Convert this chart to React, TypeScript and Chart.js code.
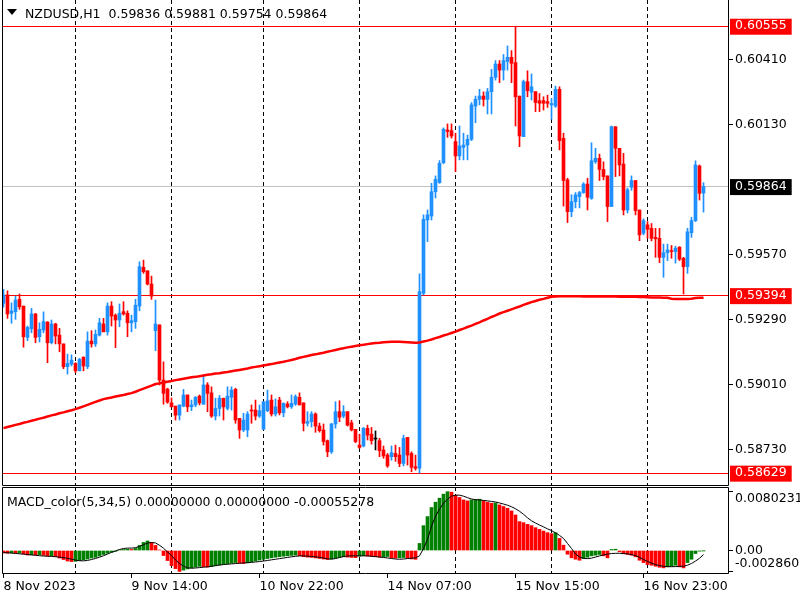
import React, { useEffect, useRef } from "react";
import { Chart, registerables } from "chart.js";

Chart.register(...registerables);

// ---------------- data ----------------
const openPrices = [
  0.59361, 0.59397, 0.59318, 0.59325, 0.59378, 0.59349, 0.59214, 0.59251, 0.59315, 0.59217,
  0.59246, 0.59280, 0.59191, 0.59272, 0.59224, 0.59186, 0.59088, 0.59099, 0.59102, 0.59070,
  0.59128, 0.59088, 0.59198, 0.59186, 0.59224, 0.59272, 0.59238, 0.59349, 0.59310, 0.59289,
  0.59325, 0.59318, 0.59277, 0.59282, 0.59349, 0.59516, 0.59501, 0.59444, 0.59243, 0.59268,
  0.59030, 0.58991, 0.58932, 0.58918, 0.58879, 0.58918, 0.58966, 0.58915, 0.58923, 0.58961,
  0.58926, 0.59009, 0.58975, 0.58875, 0.58908, 0.58952, 0.58908, 0.58956, 0.58990, 0.58865,
  0.58815, 0.58815, 0.58901, 0.58901, 0.58875, 0.58818, 0.58898, 0.58944, 0.58884, 0.58944,
  0.58889, 0.58927, 0.58915, 0.58927, 0.58956, 0.58932, 0.58844, 0.58851, 0.58884, 0.58832,
  0.58815, 0.58769, 0.58721, 0.58841, 0.58894, 0.58875, 0.58894, 0.58846, 0.58818, 0.58750,
  0.58746, 0.58822, 0.58797, 0.58776, 0.58769, 0.58729, 0.58707, 0.58700, 0.58714, 0.58707,
  0.58671, 0.58783, 0.58714, 0.58657, 0.58650, 0.59404, 0.59720, 0.59737, 0.59842, 0.59881,
  0.59967, 0.60108, 0.60105, 0.60058, 0.59996, 0.60033, 0.60043, 0.60068, 0.60211, 0.60240,
  0.60254, 0.60240, 0.60273, 0.60335, 0.60392, 0.60366, 0.60403, 0.60421, 0.60398, 0.60254,
  0.60079, 0.60316, 0.60271, 0.60273, 0.60234, 0.60234, 0.60230, 0.60216, 0.60211, 0.60283,
  0.60072, 0.59893, 0.59756, 0.59799, 0.59821, 0.59838, 0.59875, 0.59813, 0.59971, 0.59986,
  0.59938, 0.59910, 0.59778, 0.60122, 0.60029, 0.59961, 0.59763, 0.59861, 0.59890, 0.59763,
  0.59663, 0.59699, 0.59684, 0.59645, 0.59641, 0.59559, 0.59579, 0.59588, 0.59584, 0.59603,
  0.59555, 0.59519, 0.59665, 0.59717, 0.59953, 0.59836,
];
const highPrices = [
  0.59421, 0.59415, 0.59363, 0.59392, 0.59401, 0.59349, 0.59263, 0.59339, 0.59318, 0.59277,
  0.59324, 0.59282, 0.59289, 0.59275, 0.59253, 0.59186, 0.59142, 0.59139, 0.59105, 0.59124,
  0.59131, 0.59238, 0.59243, 0.59246, 0.59296, 0.59296, 0.59363, 0.59368, 0.59315, 0.59358,
  0.59368, 0.59329, 0.59310, 0.59378, 0.59540, 0.59547, 0.59501, 0.59478, 0.59375, 0.59268,
  0.59109, 0.58995, 0.58953, 0.58918, 0.58923, 0.58990, 0.58966, 0.58944, 0.58959, 0.58966,
  0.59052, 0.59019, 0.59001, 0.58952, 0.58964, 0.58952, 0.59001, 0.59001, 0.58995, 0.58865,
  0.58887, 0.58894, 0.58923, 0.58944, 0.58923, 0.58937, 0.58987, 0.58966, 0.58949, 0.58956,
  0.58932, 0.58937, 0.58966, 0.58966, 0.58975, 0.58932, 0.58894, 0.58894, 0.58889, 0.58845,
  0.58841, 0.58772, 0.58844, 0.58937, 0.58941, 0.58920, 0.58894, 0.58857, 0.58818, 0.58797,
  0.58826, 0.58836, 0.58826, 0.58811, 0.58779, 0.58746, 0.58714, 0.58746, 0.58750, 0.58740,
  0.58793, 0.58783, 0.58721, 0.58707, 0.59488, 0.59742, 0.59763, 0.59878, 0.59910, 0.59976,
  0.60117, 0.60134, 0.60134, 0.60094, 0.60125, 0.60094, 0.60086, 0.60226, 0.60254, 0.60283,
  0.60272, 0.60287, 0.60369, 0.60407, 0.60407, 0.60433, 0.60470, 0.60450, 0.60555, 0.60254,
  0.60323, 0.60363, 0.60349, 0.60273, 0.60265, 0.60251, 0.60258, 0.60244, 0.60297, 0.60294,
  0.60094, 0.59900, 0.59829, 0.59838, 0.59843, 0.59881, 0.59900, 0.60053, 0.60029, 0.60004,
  0.59971, 0.59910, 0.60125, 0.60122, 0.60029, 0.60007, 0.59858, 0.59910, 0.59890, 0.59763,
  0.59725, 0.59713, 0.59705, 0.59684, 0.59684, 0.59616, 0.59616, 0.59610, 0.59607, 0.59605,
  0.59559, 0.59684, 0.59731, 0.59975, 0.59957, 0.59881,
];
const lowPrices = [
  0.59344, 0.59296, 0.59275, 0.59292, 0.59335, 0.59172, 0.59200, 0.59234, 0.59191, 0.59194,
  0.59234, 0.59105, 0.59186, 0.59186, 0.59152, 0.59079, 0.59056, 0.59091, 0.59062, 0.59070,
  0.59070, 0.59079, 0.59172, 0.59175, 0.59220, 0.59238, 0.59224, 0.59263, 0.59170, 0.59260,
  0.59310, 0.59217, 0.59238, 0.59253, 0.59329, 0.59490, 0.59440, 0.59378, 0.59157, 0.59009,
  0.58926, 0.58930, 0.58914, 0.58858, 0.58858, 0.58915, 0.58894, 0.58898, 0.58915, 0.58923,
  0.58926, 0.58894, 0.58869, 0.58858, 0.58875, 0.58858, 0.58901, 0.58901, 0.58844, 0.58779,
  0.58808, 0.58786, 0.58844, 0.58858, 0.58869, 0.58818, 0.58894, 0.58875, 0.58875, 0.58880,
  0.58872, 0.58910, 0.58908, 0.58921, 0.58923, 0.58811, 0.58832, 0.58828, 0.58805, 0.58806,
  0.58750, 0.58700, 0.58714, 0.58823, 0.58851, 0.58867, 0.58832, 0.58811, 0.58760, 0.58736,
  0.58742, 0.58772, 0.58754, 0.58729, 0.58700, 0.58693, 0.58654, 0.58685, 0.58680, 0.58657,
  0.58660, 0.58664, 0.58635, 0.58642, 0.58629, 0.59397, 0.59627, 0.59720, 0.59815, 0.59878,
  0.59962, 0.60076, 0.60073, 0.59928, 0.59979, 0.59979, 0.59979, 0.60062, 0.60139, 0.60216,
  0.60211, 0.60177, 0.60177, 0.60323, 0.60312, 0.60323, 0.60366, 0.60312, 0.60125, 0.60036,
  0.60079, 0.60251, 0.60237, 0.60187, 0.60187, 0.60194, 0.60205, 0.60154, 0.60205, 0.60022,
  0.59780, 0.59709, 0.59734, 0.59772, 0.59772, 0.59835, 0.59763, 0.59809, 0.59964, 0.59890,
  0.59893, 0.59713, 0.59778, 0.59907, 0.59910, 0.59742, 0.59750, 0.59848, 0.59742, 0.59631,
  0.59656, 0.59641, 0.59630, 0.59559, 0.59536, 0.59473, 0.59545, 0.59555, 0.59534, 0.59545,
  0.59401, 0.59490, 0.59645, 0.59713, 0.59806, 0.59754,
];
const closePrices = [
  0.59397, 0.59315, 0.59328, 0.59375, 0.59346, 0.59217, 0.59257, 0.59315, 0.59214, 0.59249,
  0.59282, 0.59191, 0.59272, 0.59220, 0.59186, 0.59088, 0.59102, 0.59116, 0.59070, 0.59119,
  0.59091, 0.59198, 0.59186, 0.59227, 0.59277, 0.59238, 0.59349, 0.59306, 0.59289, 0.59318,
  0.59315, 0.59277, 0.59286, 0.59353, 0.59519, 0.59497, 0.59444, 0.59392, 0.59272, 0.59030,
  0.58973, 0.58935, 0.58915, 0.58879, 0.58923, 0.58966, 0.58915, 0.58923, 0.58956, 0.58932,
  0.59009, 0.58973, 0.58875, 0.58908, 0.58952, 0.58915, 0.58961, 0.58987, 0.58858, 0.58815,
  0.58858, 0.58884, 0.58897, 0.58875, 0.58898, 0.58937, 0.58941, 0.58884, 0.58915, 0.58889,
  0.58930, 0.58915, 0.58930, 0.58959, 0.58923, 0.58844, 0.58851, 0.58884, 0.58832, 0.58812,
  0.58765, 0.58721, 0.58841, 0.58894, 0.58870, 0.58894, 0.58836, 0.58815, 0.58765, 0.58740,
  0.58822, 0.58793, 0.58769, 0.58776, 0.58726, 0.58703, 0.58660, 0.58717, 0.58700, 0.58671,
  0.58779, 0.58707, 0.58654, 0.58650, 0.59411, 0.59723, 0.59742, 0.59842, 0.59895, 0.59964,
  0.60111, 0.60101, 0.60082, 0.59996, 0.60039, 0.60043, 0.60068, 0.60216, 0.60240, 0.60254,
  0.60240, 0.60273, 0.60335, 0.60392, 0.60366, 0.60407, 0.60421, 0.60395, 0.60251, 0.60082,
  0.60316, 0.60277, 0.60294, 0.60226, 0.60223, 0.60223, 0.60223, 0.60222, 0.60283, 0.60062,
  0.59890, 0.59756, 0.59799, 0.59828, 0.59838, 0.59875, 0.59818, 0.59975, 0.59986, 0.59938,
  0.59907, 0.59778, 0.60122, 0.60029, 0.59957, 0.59763, 0.59850, 0.59890, 0.59760, 0.59656,
  0.59717, 0.59680, 0.59641, 0.59639, 0.59559, 0.59579, 0.59591, 0.59584, 0.59598, 0.59551,
  0.59519, 0.59669, 0.59717, 0.59957, 0.59835, 0.59864,
];
const movingAverage = [
  0.58823, 0.58828, 0.58832, 0.58837, 0.58841, 0.58846, 0.58850, 0.58855, 0.58859, 0.58864,
  0.58868, 0.58873, 0.58878, 0.58882, 0.58887, 0.58891, 0.58896, 0.58900, 0.58905, 0.58911,
  0.58917, 0.58923, 0.58930, 0.58936, 0.58942, 0.58948, 0.58952, 0.58955, 0.58959, 0.58963,
  0.58966, 0.58970, 0.58974, 0.58980, 0.58987, 0.58993, 0.59000, 0.59006, 0.59013, 0.59016,
  0.59020, 0.59023, 0.59026, 0.59030, 0.59033, 0.59036, 0.59039, 0.59042, 0.59044, 0.59047,
  0.59050, 0.59053, 0.59055, 0.59058, 0.59060, 0.59063, 0.59065, 0.59068, 0.59071, 0.59074,
  0.59077, 0.59080, 0.59084, 0.59087, 0.59090, 0.59093, 0.59096, 0.59099, 0.59103, 0.59106,
  0.59109, 0.59113, 0.59117, 0.59121, 0.59126, 0.59130, 0.59134, 0.59138, 0.59141, 0.59145,
  0.59148, 0.59152, 0.59156, 0.59160, 0.59164, 0.59167, 0.59171, 0.59174, 0.59177, 0.59180,
  0.59182, 0.59185, 0.59188, 0.59190, 0.59191, 0.59193, 0.59194, 0.59195, 0.59195, 0.59195,
  0.59194, 0.59193, 0.59192, 0.59191, 0.59192, 0.59196, 0.59200, 0.59205, 0.59211, 0.59216,
  0.59222, 0.59227, 0.59233, 0.59239, 0.59246, 0.59252, 0.59259, 0.59265, 0.59272, 0.59279,
  0.59287, 0.59294, 0.59302, 0.59309, 0.59317, 0.59323, 0.59329, 0.59335, 0.59341, 0.59347,
  0.59354, 0.59360, 0.59366, 0.59371, 0.59376, 0.59380, 0.59385, 0.59389, 0.59390, 0.59391,
  0.59391, 0.59391, 0.59391, 0.59391, 0.59391, 0.59390, 0.59390, 0.59390, 0.59390, 0.59390,
  0.59390, 0.59390, 0.59390, 0.59390, 0.59389, 0.59389, 0.59389, 0.59389, 0.59389, 0.59388,
  0.59388, 0.59387, 0.59386, 0.59386, 0.59386, 0.59385, 0.59385, 0.59381, 0.59380, 0.59380,
  0.59380, 0.59380, 0.59381, 0.59384, 0.59385, 0.59385,
];
const macdHistogram = [
  -0.000343, -0.000370, -0.000316, -0.000384, -0.000343, -0.000480, -0.000617, -0.000590, -0.000617, -0.000576,
  -0.000659, -0.000755, -0.000727, -0.000823, -0.001029, -0.001235, -0.001441, -0.001509, -0.001482, -0.001372,
  -0.001276, -0.001166, -0.001029, -0.000933, -0.000755, -0.000549, -0.000384, -0.000247, -0.000110, 0.000069,
  0.000137, 0.000165, 0.000137, 0.000274, 0.000686, 0.001098, 0.001303, 0.001098, 0.000686, 0.000069,
  -0.000686, -0.001372, -0.002058, -0.002470, -0.0028601, -0.002675, -0.002511, -0.002374, -0.002264, -0.002168,
  -0.002223, -0.002278, -0.002195, -0.002085, -0.001989, -0.001893, -0.001811, -0.001729, -0.001646, -0.001715,
  -0.001784, -0.001688, -0.001550, -0.001427, -0.001303, -0.001194, -0.001098, -0.001002, -0.000919, -0.000851,
  -0.000782, -0.000727, -0.000672, -0.000631, -0.000713, -0.000851, -0.000906, -0.000947, -0.001015, -0.001084,
  -0.001166, -0.001235, -0.001139, -0.001043, -0.000947, -0.000864, -0.000906, -0.000947, -0.000974, -0.000768,
  -0.000713, -0.000755, -0.000809, -0.000851, -0.000906, -0.000864, -0.000823, -0.000988, -0.001043, -0.001002,
  -0.000960, -0.001043, -0.001152, -0.001207, 0.000960, 0.003389, 0.004624, 0.005858, 0.006586, 0.007134,
  0.007683, 0.0080231, 0.007958, 0.007505, 0.007230, 0.006901, 0.006764, 0.006901, 0.006956, 0.006997,
  0.006764, 0.006586, 0.006448, 0.006490, 0.006215, 0.005996, 0.005762, 0.005392, 0.004843, 0.003938,
  0.003800, 0.003567, 0.003389, 0.003114, 0.002881, 0.002648, 0.002428, 0.002291, 0.002428, 0.001646,
  0.000727, -0.000508, -0.001002, -0.001194, -0.001331, -0.001098, -0.000919, -0.000727, -0.000645, -0.000549,
  -0.000727, -0.001002, 0.000137, 0.000178, -0.000178, -0.000453, -0.000549, -0.000645, -0.000864, -0.001331,
  -0.001646, -0.001921, -0.002017, -0.002154, -0.002291, -0.002374, -0.002236, -0.002154, -0.002017, -0.002236,
  -0.002374, -0.001646, -0.001194, -0.000412, -0.000096, -0.000027,
];
const macdSignal = [
  -0.000274, -0.000316, -0.000357, -0.000398, -0.000453, -0.000494, -0.000549, -0.000604, -0.000659, -0.000713,
  -0.000755, -0.000782, -0.000809, -0.000851, -0.000906, -0.000974, -0.001070, -0.001180, -0.001317, -0.001399,
  -0.001413, -0.001358, -0.001235, -0.001084, -0.000919, -0.000713, -0.000494, -0.000247, -0.000069, 0.000137,
  0.000274, 0.000329, 0.000329, 0.000384, 0.000549, 0.000796, 0.001015, 0.001098, 0.001029, 0.000713,
  0.000316, -0.000206, -0.000686, -0.001303, -0.001784, -0.002127, -0.002374, -0.002415, -0.002387, -0.002332,
  -0.002278, -0.002223, -0.002154, -0.002058, -0.001976, -0.001921, -0.001880, -0.001825, -0.001784, -0.001742,
  -0.001701, -0.001660, -0.001619, -0.001564, -0.001509, -0.001441, -0.001358, -0.001276, -0.001194, -0.001111,
  -0.001029, -0.000947, -0.000864, -0.000796, -0.000741, -0.000741, -0.000768, -0.000809, -0.000864, -0.000933,
  -0.001029, -0.001139, -0.001180, -0.001098, -0.000960, -0.000823, -0.000755, -0.000727, -0.000727, -0.000727,
  -0.000727, -0.000741, -0.000782, -0.000837, -0.000892, -0.000960, -0.001015, -0.001098, -0.001166, -0.001194,
  -0.001166, -0.001098, -0.001043, -0.001002, -0.000727, 0.000274, 0.001509, 0.003293, 0.004665, 0.005625,
  0.006448, 0.006997, 0.007409, 0.007546, 0.007546, 0.007409, 0.007203, 0.007025, 0.006929, 0.006887,
  0.006833, 0.006764, 0.006695, 0.006613, 0.006490, 0.006339, 0.006174, 0.005968, 0.005694, 0.005351,
  0.004939, 0.004459, 0.004047, 0.003746, 0.003471, 0.003224, 0.002950, 0.002717, 0.002401, 0.002058,
  0.001646, 0.000960, 0.000274, -0.000480, -0.000892, -0.001070, -0.001111, -0.001043, -0.000892, -0.000741,
  -0.000604, -0.000494, -0.000412, -0.000384, -0.000384, -0.000412, -0.000466, -0.000563, -0.000686, -0.000933,
  -0.001221, -0.001482, -0.001729, -0.001921, -0.002058, -0.002154, -0.002195, -0.002209, -0.002195, -0.002168,
  -0.002140, -0.002003, -0.001770, -0.001441, -0.001070, -0.00055278,
];

// price axis
const priceTicks = [0.60410, 0.60130, 0.59570, 0.59290, 0.59010, 0.58730];
const levelValues = [0.60555, 0.59864, 0.59394, 0.58629];
const levelLineColors = ["#FF0000", "#C0C0C0", "#FF0000", "#FF0000"];
const levelBoxColors = ["#FF0000", "#000000", "#FF0000", "#FF0000"];
// time axis (bar indices)
const daySeparators = [18, 42, 65, 89, 113, 137, 161];
const timeTickIndex = [0, 32, 64, 96, 128, 160];
const timeTickText = ["8 Nov 2023", "9 Nov 14:00", "10 Nov 22:00", "14 Nov 07:00", "15 Nov 15:00", "16 Nov 23:00"];
// MACD axis
const macdTicks = [0.0080231, 0, -0.0028601];
const macdTickText = ["0.0080231", "0.00", "-0.0028601"];

const titleText = "NZDUSD,H1  0.59836 0.59881 0.59754 0.59864";
const macdTitleText = "MACD_color(5,34,5) 0.00000000 0.00000000 -0.00055278";

// ---------------- styles ----------------
const UP = "#1E90FF";
const DOWN = "#FF0000";
const DOJI = "#000000";
const FONT = "DejaVu Sans";
const X_MIN = -0.375;
const X_MAX = 181.125;

const levelIndex = (v: number) => levelValues.findIndex((l) => Math.abs(l - v) < 1e-7);

const framePlugin = {
  id: "panelFrame",
  afterDraw(chart: any, _args: any, opts: any) {
    const { ctx, chartArea: a } = chart;
    const l = Math.round(a.left) + 0.5;
    const r = Math.round(a.right) + 0.5;
    const t = Math.round(a.top) + 0.5;
    const b = Math.round(a.bottom) + 0.5;
    ctx.save();
    ctx.strokeStyle = "#000";
    ctx.lineWidth = 1;
    ctx.beginPath();
    ctx.moveTo(l, opts.top ? t : a.top);
    ctx.lineTo(l, b);
    ctx.lineTo(r, b);
    ctx.lineTo(r, opts.top ? t : a.top);
    if (opts.top) {
      ctx.moveTo(l, t);
      ctx.lineTo(r, t);
    }
    ctx.stroke();
    ctx.restore();
  },
};

export default function App() {
  const mainRef = useRef<HTMLCanvasElement>(null);
  const macdRef = useRef<HTMLCanvasElement>(null);

  useEffect(() => {
    Chart.defaults.font.family = FONT;
    Chart.defaults.font.size = 12.5;
    const idx = openPrices.map((_, i) => i);
    const candleColors = idx.map((i) =>
      closePrices[i] > openPrices[i] ? UP : closePrices[i] < openPrices[i] ? DOWN : DOJI
    );
    const histColors = macdHistogram.map((v, i) =>
      i > 0 && v > macdHistogram[i - 1] ? "#008000" : "#FF0000"
    );

    const main = new Chart(mainRef.current as HTMLCanvasElement, {
      type: "bar",
      data: {
        datasets: [
          {
            type: "line",
            data: movingAverage.map((v, i) => ({ x: i, y: v })),
            borderColor: "#FF0000",
            borderWidth: 2.5,
            pointRadius: 0,
            tension: 0,
            order: 1,
          } as any,
          {
            type: "bar",
            data: idx.map((i) => ({ x: i, y: [openPrices[i], closePrices[i]] })),
            backgroundColor: candleColors,
            barThickness: 3,
            minBarLength: 1,
            grouped: false,
            order: 2,
          } as any,
          {
            type: "bar",
            data: idx.map((i) => ({ x: i, y: [lowPrices[i], highPrices[i]] })),
            backgroundColor: candleColors,
            barThickness: 1,
            grouped: false,
            order: 3,
          } as any,
        ],
      },
      options: {
        responsive: false,
        animation: false,
        events: [],
        layout: { padding: { left: 2, right: 0, top: 0, bottom: 1 } },
        plugins: {
          legend: { display: false },
          tooltip: { enabled: false },
          panelFrame: { top: false },
        } as any,
        scales: {
          x: {
            type: "linear",
            min: X_MIN,
            max: X_MAX,
            offset: false,
            bounds: "data",
            afterBuildTicks: (s: any) => {
              s.ticks = daySeparators.map((v) => ({ value: v }));
            },
            ticks: { display: false, autoSkip: false },
            grid: { color: "#000000", lineWidth: 1, drawTicks: false, offset: false },
            border: { display: false, dash: [4, 3] },
            afterFit: (s: any) => {
              s.height = 0;
              s.paddingLeft = 0;
              s.paddingRight = 0;
            },
          } as any,
          y: {
            type: "linear",
            position: "right",
            min: 0.58578,
            max: 0.60668,
            afterBuildTicks: (s: any) => {
              s.ticks = [...priceTicks, ...levelValues].sort((a, b) => a - b).map((v) => ({ value: v }));
            },
            ticks: {
              autoSkip: false,
              padding: 2,
              font: { family: FONT, size: 12.5 },
              callback: (v: any) => Number(v).toFixed(5),
              color: (c: any) => (levelIndex(c.tick.value) >= 0 ? "#FFFFFF" : "#000000"),
              showLabelBackdrop: (c: any) => levelIndex(c.tick.value) >= 0,
              backdropColor: (c: any) => {
                const k = levelIndex(c.tick.value);
                return k >= 0 ? levelBoxColors[k] : "rgba(0,0,0,0)";
              },
              backdropPadding: { top: 0, bottom: 1, left: 5, right: 5 },
            },
            grid: {
              lineWidth: 1,
              tickLength: 5,
              color: (c: any) => {
                if (!c.tick) return "rgba(0,0,0,0)";
                const k = levelIndex(c.tick.value);
                return k >= 0 ? levelLineColors[k] : "rgba(0,0,0,0)";
              },
              tickColor: (c: any) =>
                c.tick && levelIndex(c.tick.value) < 0 ? "#000000" : "rgba(0,0,0,0)",
            },
            border: { display: false },
            afterFit: (s: any) => {
              s.width = 72;
              s.paddingTop = 0;
              s.paddingBottom = 0;
            },
          } as any,
        },
      },
      plugins: [framePlugin as any],
    });

    const xTickValues = [...timeTickIndex, ...daySeparators].sort((a, b) => a - b);

    const macd = new Chart(macdRef.current as HTMLCanvasElement, {
      type: "bar",
      data: {
        datasets: [
          {
            type: "line",
            data: macdSignal.map((v, i) => ({ x: i, y: v })),
            borderColor: "#000000",
            borderWidth: 1,
            pointRadius: 0,
            tension: 0,
            order: 1,
          } as any,
          {
            type: "bar",
            data: macdHistogram.map((v, i) => ({ x: i, y: v })),
            backgroundColor: histColors,
            barThickness: 3,
            grouped: false,
            order: 2,
          } as any,
        ],
      },
      options: {
        responsive: false,
        animation: false,
        events: [],
        layout: { padding: { left: 2, right: 0, top: 1, bottom: 0 } },
        plugins: {
          legend: { display: false },
          tooltip: { enabled: false },
          panelFrame: { top: true },
        } as any,
        scales: {
          x: {
            type: "linear",
            min: X_MIN,
            max: X_MAX,
            offset: false,
            bounds: "data",
            afterBuildTicks: (s: any) => {
              s.ticks = xTickValues.map((v) => ({ value: v }));
            },
            ticks: {
              autoSkip: false,
              maxRotation: 0,
              minRotation: 0,
              align: "start",
              padding: 1,
              color: "#000000",
              font: { family: FONT, size: 12.5 },
              callback: (v: any) => {
                const k = timeTickIndex.indexOf(Number(v));
                return k >= 0 ? timeTickText[k] : "";
              },
            },
            grid: {
              lineWidth: 1,
              tickLength: 5,
              offset: false,
              color: (c: any) =>
                c.tick && daySeparators.includes(c.tick.value) ? "#000000" : "rgba(0,0,0,0)",
              tickColor: (c: any) =>
                c.tick && timeTickIndex.includes(c.tick.value) ? "#000000" : "rgba(0,0,0,0)",
            },
            border: { display: false, dash: [4, 3] },
            afterFit: (s: any) => {
              s.height = 27;
              s.paddingLeft = 0;
              s.paddingRight = 0;
            },
          } as any,
          y: {
            type: "linear",
            position: "right",
            min: -0.00307,
            max: 0.00866,
            afterBuildTicks: (s: any) => {
              s.ticks = macdTicks.map((v) => ({ value: v }));
            },
            ticks: {
              autoSkip: false,
              padding: 2,
              color: "#000000",
              font: { family: FONT, size: 12.5 },
              callback: (_v: any, i: number) => {
                const t = macdTickText[i];
                // MetaTrader keeps the extreme labels inside the sub-window
                if (i === 0) return ["", t];
                if (i === macdTicks.length - 1) return [t, ""];
                return t;
              },
            },
            grid: {
              lineWidth: 1,
              tickLength: 5,
              color: "rgba(0,0,0,0)",
              tickColor: "#000000",
            },
            border: { display: false },
            afterFit: (s: any) => {
              s.width = 72;
              s.paddingTop = 0;
              s.paddingBottom = 0;
            },
          } as any,
        },
      },
      plugins: [framePlugin as any],
    });

    return () => {
      main.destroy();
      macd.destroy();
    };
  }, []);

  const textStyle: React.CSSProperties = {
    position: "absolute",
    fontFamily: FONT,
    fontSize: "12.5px",
    lineHeight: "normal",
    whiteSpace: "pre",
    color: "#000",
    pointerEvents: "none",
  };

  return (
    <div
      style={{
        position: "absolute",
        left: 0,
        top: 0,
        width: 800,
        height: 600,
        background: "#fff",
        overflow: "hidden",
      }}
    >
      <canvas ref={mainRef} width={800} height={486} style={{ position: "absolute", left: 0, top: 0 }} />
      <canvas ref={macdRef} width={800} height={114} style={{ position: "absolute", left: 0, top: 486 }} />
      <div
        style={{
          position: "absolute",
          left: 7,
          top: 9,
          width: 0,
          height: 0,
          borderLeft: "5px solid transparent",
          borderRight: "5px solid transparent",
          borderTop: "6px solid #000",
        }}
      />
      <div style={{ ...textStyle, left: 25, top: 6 }}>{titleText}</div>
      <div style={{ ...textStyle, left: 7, top: 494 }}>{macdTitleText}</div>
    </div>
  );
}
